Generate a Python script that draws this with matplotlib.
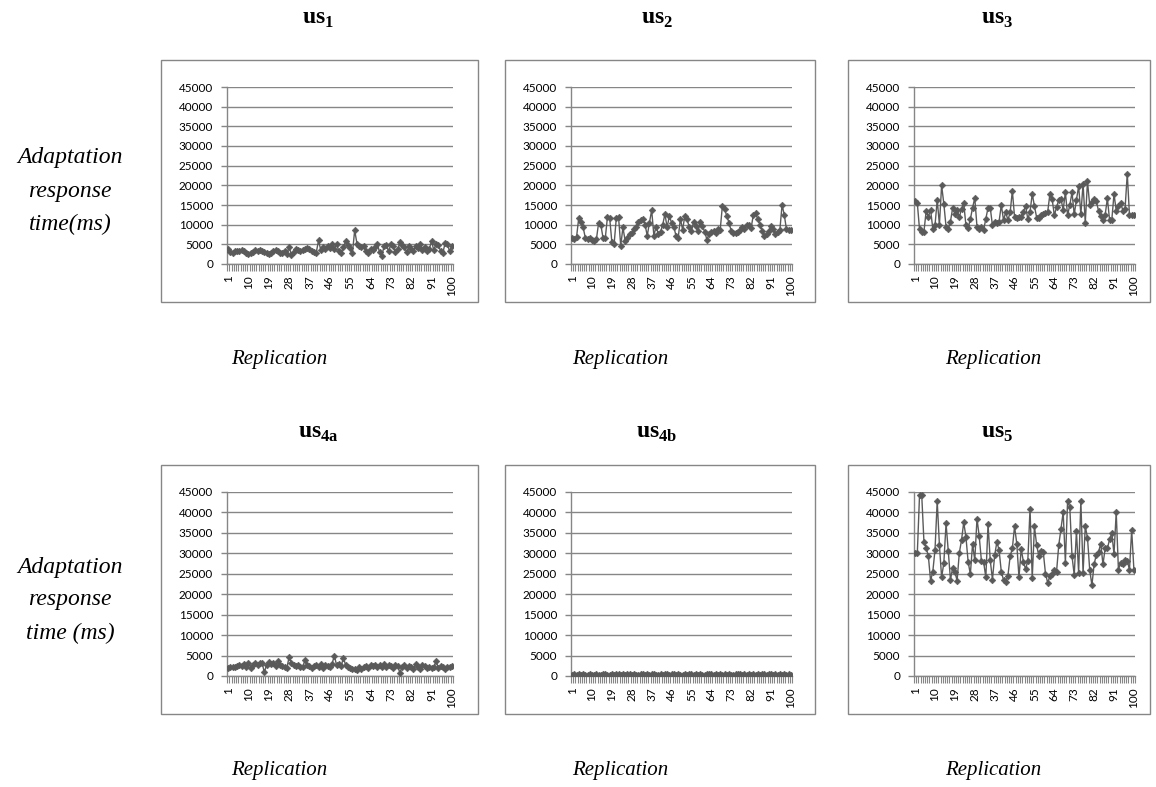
import matplotlib
matplotlib.use("Agg")
import matplotlib.pyplot as plt
from matplotlib.patches import Rectangle
from matplotlib.ticker import FixedLocator

W, H = 1156, 787

replications = list(range(1, 101))
x_tick_labels = [1, 10, 19, 28, 37, 46, 55, 64, 73, 82, 91, 100]
y_ticks = [0, 5000, 10000, 15000, 20000, 25000, 30000, 35000, 40000, 45000]

us1 = [3800, 3100, 2900, 3300, 3200, 3400, 3500, 3300, 2700, 2500,
       2900, 3000, 3500, 3400, 3600, 3300, 3100, 2800, 2500, 2700,
       3300, 3500, 3200, 2800, 2900, 3400, 2600, 4300, 2400, 3000,
       3800, 3500, 3200, 3600, 3900, 4100, 3800, 3400, 3100, 2900,
       6000, 3500, 4400, 3800, 4500, 4000, 5000, 3900, 5000, 3300,
       2900, 4200, 5800, 4800, 4000, 2800, 8600, 5200, 4500, 4300,
       4700, 3200, 2900, 3800, 3600, 4200, 5200, 3000, 2100, 4500,
       4800, 3200, 5000, 4600, 3000, 3700, 5500, 4800, 4400, 3000,
       4500, 3800, 3300, 4600, 4100, 5200, 3500, 4400, 3300, 3800,
       5800, 3500, 5200, 4900, 3300, 2800, 5300, 5100, 3200, 4500]

us2 = [6600, 6400, 6800, 11700, 10800, 9300, 6600, 6400, 6500, 6200,
       5900, 6300, 10500, 10000, 6600, 6500, 12000, 11700, 5500, 5000,
       11700, 12000, 4650, 9300, 5900, 6600, 7600, 8000, 8800, 9300,
       10700, 11300, 11500, 10000, 7200, 10500, 13700, 7200, 9500, 7700,
       8200, 10000, 12700, 9300, 12200, 10500, 9500, 7200, 6600, 11500,
       8700, 12200, 11500, 9300, 8400, 10800, 9600, 8400, 10800, 9600,
       8200, 6200, 7600, 8200, 8400, 8000, 8800, 8600, 14800, 13900,
       12200, 10500, 8400, 7800, 8000, 8200, 8600, 9300, 8900, 9800,
       10000, 9100, 12500, 13000, 11400, 10000, 8400, 7200, 7600, 8400,
       9600, 8800, 7600, 8200, 8600, 15000, 12500, 8800, 8700, 8700]

us3 = [16000, 15500, 8800, 8200, 8200, 13500, 12000, 13800, 9000, 9800,
       16300, 10000, 20000, 15300, 9500, 9000, 10800, 14300, 12800, 13800,
       11900, 14000, 15500, 9800, 9200, 11400, 14300, 16800, 9500, 8800,
       9500, 8600, 11500, 14300, 14300, 9800, 10800, 10500, 10800, 15000,
       11200, 13100, 11200, 13100, 18600, 12000, 11600, 12000, 12000, 13300,
       14800, 11400, 13300, 17800, 14700, 11800, 11600, 12400, 12800, 13000,
       13300, 17800, 16500, 12400, 14400, 16300, 16500, 13800, 18200, 12400,
       15000, 18200, 12600, 16300, 19800, 12600, 20400, 10500, 21000, 15000,
       15700, 16500, 16000, 13500, 12200, 11200, 12500, 16700, 11200, 11200,
       17800, 13600, 14800, 15600, 13600, 14000, 23000, 12400, 12400, 12400]

us4a = [2000, 2200, 2300, 2100, 2500, 2600, 2400, 3000, 2200, 3300,
        2000, 2600, 3200, 2800, 3100, 3300, 900, 2700, 3400, 2900,
        3200, 2500, 3600, 2800, 2400, 2200, 2000, 4700, 3200, 2800,
        2400, 2600, 2100, 2300, 3800, 2700, 2500, 2000, 2400, 2700,
        2300, 2900, 2000, 2600, 2400, 2200, 3000, 5000, 2600, 2900,
        2400, 4400, 2700, 2200, 2000, 1600, 1700, 1500, 2100, 1800,
        2300, 2500, 2000, 2700, 2400, 2800, 2100, 2600, 2300, 2900,
        2200, 2600, 2500, 2000, 2800, 2400, 800, 2300, 2700, 2000,
        2500, 2300, 1800, 2900, 2200, 1700, 2600, 2400, 2000, 2300,
        1900, 2100, 3700, 2000, 2400, 2200, 1800, 2300, 2100, 2500]

us4b = [300, 450, 250, 380, 200, 420, 350, 150, 480, 300,
        260, 400, 330, 180, 450, 520, 280, 360, 410, 230,
        390, 470, 310, 550, 260, 420, 380, 300, 500, 340,
        270, 450, 390, 210, 480, 320, 410, 560, 290, 360,
        440, 300, 510, 380, 250, 470, 420, 330, 580, 360,
        300, 430, 260, 390, 480, 310, 450, 220, 400, 350,
        280, 460, 380, 530, 300, 420, 250, 490, 340, 400,
        310, 470, 360, 240, 450, 380, 520, 290, 410, 330,
        460, 270, 400, 350, 500, 300, 430, 580, 260, 390,
        450, 320, 410, 280, 500, 360, 430, 300, 380, 330]

us5 = [30100, 30000, 44200, 44200, 32800, 31400, 29300, 23300, 25500, 30800,
       42800, 32000, 24100, 27700, 37300, 30600, 23500, 26500, 25500, 23300,
       30100, 33200, 37600, 34000, 27900, 24900, 32300, 28300, 38500, 34200,
       28200, 27900, 24100, 37100, 28300, 23600, 29500, 32800, 30800, 25500,
       23500, 23100, 24500, 29300, 31200, 36600, 32400, 24100, 31000, 28000,
       26100, 28200, 40900, 23900, 36600, 32000, 29300, 30600, 30300, 25000,
       22800, 24400, 25000, 26000, 25500, 32000, 36000, 40100, 27700, 42900,
       41300, 29300, 24700, 35400, 25200, 42900, 25200, 36600, 33800, 26000,
       22200, 27300, 29700, 30300, 32400, 27300, 31200, 31200, 33400, 35000,
       29800, 40100, 26000, 27700, 27300, 28300, 28200, 26000, 35700, 26000]

subscripts = ["1", "2", "3", "4a", "4b", "5"]
series = [us1, us2, us3, us4a, us4b, us5]

plt.rcParams["mathtext.fontset"] = "custom"
plt.rcParams["mathtext.bf"] = "Liberation Serif:bold"
plt.rcParams["mathtext.rm"] = "Liberation Serif"

fig = plt.figure(figsize=(W / 100, H / 100), dpi=100)

# plot-area extents in pixels (left, right) per column and (top, bottom) per row
cols = [(227, 453), (571, 792), (914, 1135)]
rows = [(87, 264), (492, 676)]
# chart frames
box_cols = [(161, 478), (505, 815), (848, 1150)]
box_rows = [(60, 302), (465, 714)]
title_x = [318, 657, 997]
title_y = [18, 432]
repl_x = [279, 620, 993]
repl_y = [360, 771]
ylabel_lines = [["Adaptation", "response", "time(ms)"],
                ["Adaptation", "response", "time (ms)"]]
ylabel_top = [158, 567]

grid_c = "#868686"
line_c = "#5a5a5a"
tick_font = "Lato"

for i, (sub, vals) in enumerate(zip(subscripts, series)):
    r, c = divmod(i, 3)
    x0, x1 = cols[c]
    y0, y1 = rows[r]
    ax = fig.add_axes([x0 / W, 1 - y1 / H, (x1 - x0) / W, (y1 - y0) / H])
    ax.plot(replications, vals, color=line_c, lw=1.0, marker="D",
            markersize=3.4, markeredgewidth=0.4, markeredgecolor=line_c,
            markerfacecolor=line_c, zorder=3)
    ax.set_xlim(0.5, 100.5)
    ax.set_ylim(0, 45000)
    ax.set_yticks(y_ticks)
    ax.set_yticklabels([str(v) for v in y_ticks], fontsize=8.5,
                       family=tick_font, color="#000000")
    ax.yaxis.grid(True, color=grid_c, lw=1.0)
    ax.set_axisbelow(True)
    ax.tick_params(axis="y", length=4, width=1, color=grid_c, pad=6)
    ax.set_xticks(x_tick_labels)
    ax.set_xticklabels([str(v) for v in x_tick_labels], rotation=90,
                       fontsize=8.5, family=tick_font)
    ax.xaxis.set_minor_locator(FixedLocator([k + 0.5 for k in range(0, 101)]))
    ax.tick_params(axis="x", which="major", length=0, pad=8)
    ax.tick_params(axis="x", which="minor", length=5, width=0.8, color=grid_c)
    for s in ("top", "right"):
        ax.spines[s].set_visible(False)
    for s in ("left", "bottom"):
        ax.spines[s].set_color(grid_c)
        ax.spines[s].set_linewidth(1.0)
    ax.set_facecolor("none")

    bx0, bx1 = box_cols[c]
    by0, by1 = box_rows[r]
    fig.add_artist(Rectangle((bx0 / W, 1 - by1 / H), (bx1 - bx0) / W,
                             (by1 - by0) / H, transform=fig.transFigure,
                             fill=False, edgecolor=grid_c, lw=1.0))

    fig.text(title_x[c] / W, 1 - title_y[r] / H,
             r"$\mathbf{us}_{\mathbf{%s}}$" % sub,
             ha="center", va="center", fontsize=17)
    fig.text(repl_x[c] / W, 1 - repl_y[r] / H, "Replication", ha="center",
             va="center", fontsize=15, family="Liberation Serif",
             style="italic")

for r in range(2):
    for k, line in enumerate(ylabel_lines[r]):
        fig.text(70 / W, 1 - (ylabel_top[r] + 33 * k) / H, line,
                 ha="center", va="center", fontsize=17,
                 family="Liberation Serif", style="italic")

fig.savefig("out.png", dpi=100)
